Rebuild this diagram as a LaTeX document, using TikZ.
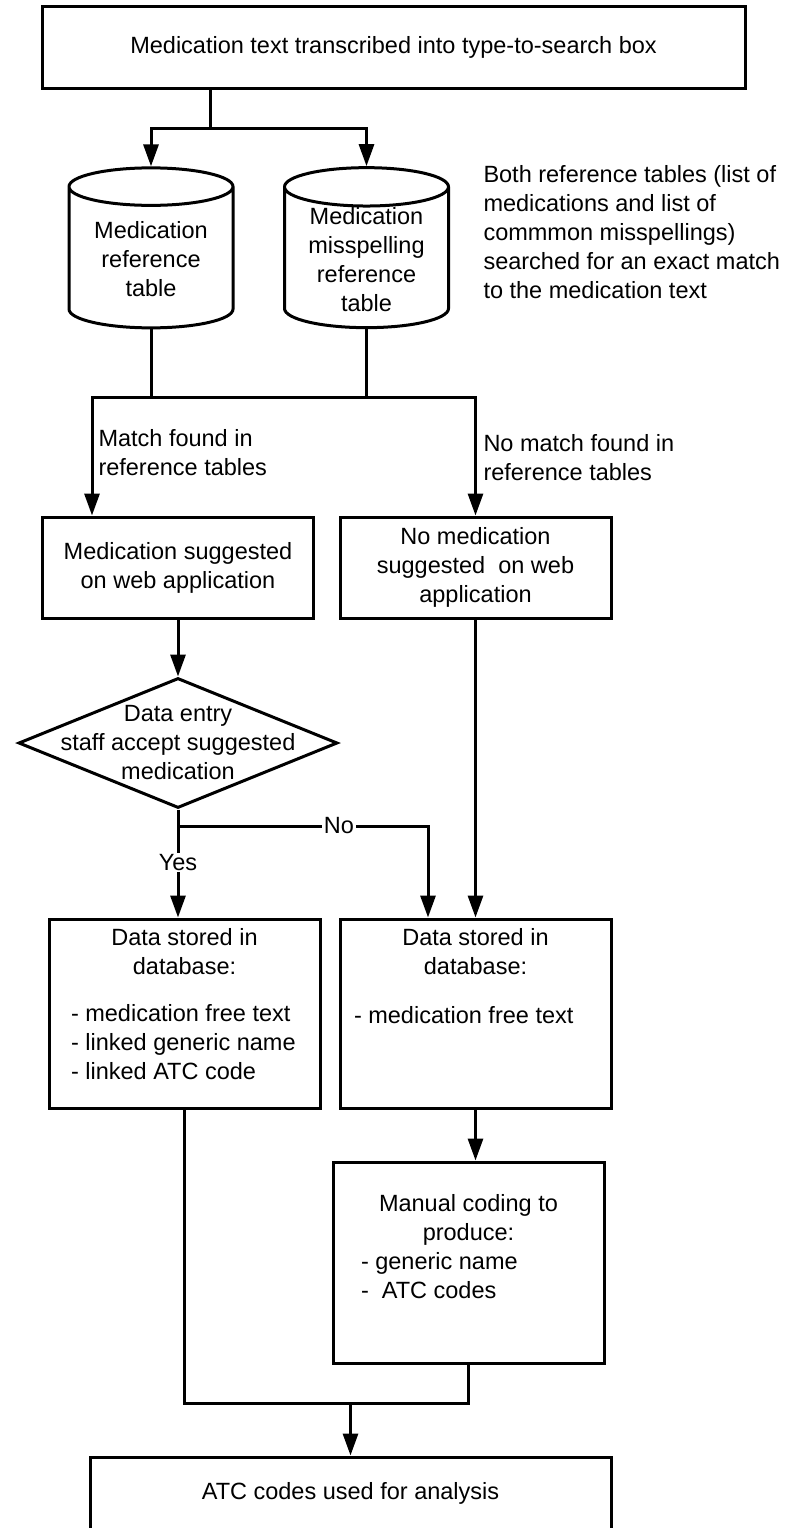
\documentclass[tikz,border=0pt]{standalone}
\usepackage{fontspec}
\setmainfont{Liberation Sans}
\usetikzlibrary{shapes.geometric,arrows.meta}

\newcommand{\tabtext}[1]{\raisebox{-10pt}[0pt][0pt]{\begin{tabular}{@{}c@{}}#1\end{tabular}}}

\begin{document}
\begin{tikzpicture}[x=1pt,y=-1pt,line width=3pt,
  font=\fontsize{23.5}{29}\selectfont,
  >={Triangle[length=22pt,width=15pt]},
  procbox/.style={shape=rectangle,draw=black,minimum width=271pt,align=center,inner sep=0pt},
  dbtable/.style={shape=cylinder,draw=black,shape border rotate=90,aspect=0.33,
    minimum width=164pt,minimum height=160pt,inner sep=0pt},
  decision/.style={shape=diamond,draw=black,aspect=2.45,minimum width=319pt,
    minimum height=130pt,inner sep=0pt},
  note/.style={align=left,anchor=west,inner sep=0pt},
  yesno/.style={fill=white,inner sep=1.5pt}]
\useasboundingbox (0,0) rectangle (788,1528);
% nodes
\node[procbox,minimum width=703pt,minimum height=81pt] (entry) at (393.5,47.5) {Medication text transcribed into type-to-search box};
\node[dbtable] (medtab) at (151,258) {\tabtext{Medication\\reference\\table}};
\node[dbtable] (misstab) at (366.5,258) {\tabtext{Medication\\misspelling\\reference\\table}};
\node[note] (searchnote) at (482,232.5) {Both reference tables (list of\\medications and list of\\commmon misspellings)\\searched for an exact match\\to the medication text};
\node[procbox,minimum height=101pt] (match) at (178,567.5) {Medication suggested\\on web application};
\node[procbox,minimum height=101pt] (nomatch) at (475.5,567.5) {No medication\\suggested\ \ on web\\application};
\node[note] (matchlbl) at (97,452.5) {Match found in\\reference tables};
\node[note] (nomatchlbl) at (482,457.5) {No match found in\\reference tables};
\node[decision,label={[align=center]center:{Data entry\\staff accept suggested\\medication}}] (decide) at (178,743) {};
\node[procbox,minimum height=189pt,label={[align=center,yshift=9pt]center:{Data stored in\\database:\\[18pt]
  \makebox[227pt][l]{- medication free text}\\
  \makebox[227pt][l]{- linked generic name}\\
  \makebox[227pt][l]{- linked ATC code}}}] (stored) at (184.5,1013.5) {};
\node[procbox,minimum height=189pt,label={[align=center,yshift=37pt]center:{Data stored in\\database:\\[20pt]
  \makebox[243pt][l]{- medication free text}}}] (nostored) at (475.5,1013.5) {};
\node[procbox,minimum height=201pt,label={[align=center,yshift=16pt]center:{Manual coding to\\produce:\\
  \makebox[215pt][l]{- generic name}\\
  \makebox[215pt][l]{-\ \ ATC codes}}}] (manual) at (468.5,1262.5) {};
\node[procbox,minimum width=521pt,minimum height=73pt] (final) at (350.5,1493.5) {ATC codes used for analysis};
% connectors
\coordinate (split) at (210,128);
\coordinate (hub) at (283,397);
\coordinate (matchx) at (92,397);
\coordinate (nosplit) at (178,826);
\coordinate (noturn) at (428,826);
\coordinate (join) at (350.5,1403);
\draw (entry.south -| split) -- (split);
\draw[<->] (medtab.north) |- (misstab.north |- split) -- (misstab.north);
\draw (medtab.south) -- (medtab.south |- hub);
\draw (misstab.south) -- (misstab.south |- hub);
\draw[<->] (matchx |- match.north) -- (matchx) -- (nomatch.north |- hub) -- (nomatch.north);
\path [->] (match) edge (decide);
\draw[->] (decide.south) -- node[yesno,pos=0.49] (yeslbl) {Yes} (decide.south |- stored.north);
\draw[->] (nosplit) -- node[yesno,pos=0.644] (nolbl) {No} (noturn) -- (noturn |- nostored.north);
\path [->] (nomatch) edge (nostored);
\draw[->] (nostored.south) -- (nostored.south |- manual.north);
\draw (stored.south) |- (manual.south |- join) -- (manual.south);
\draw[->] (join) -- (final.north);
\end{tikzpicture}
\end{document}
